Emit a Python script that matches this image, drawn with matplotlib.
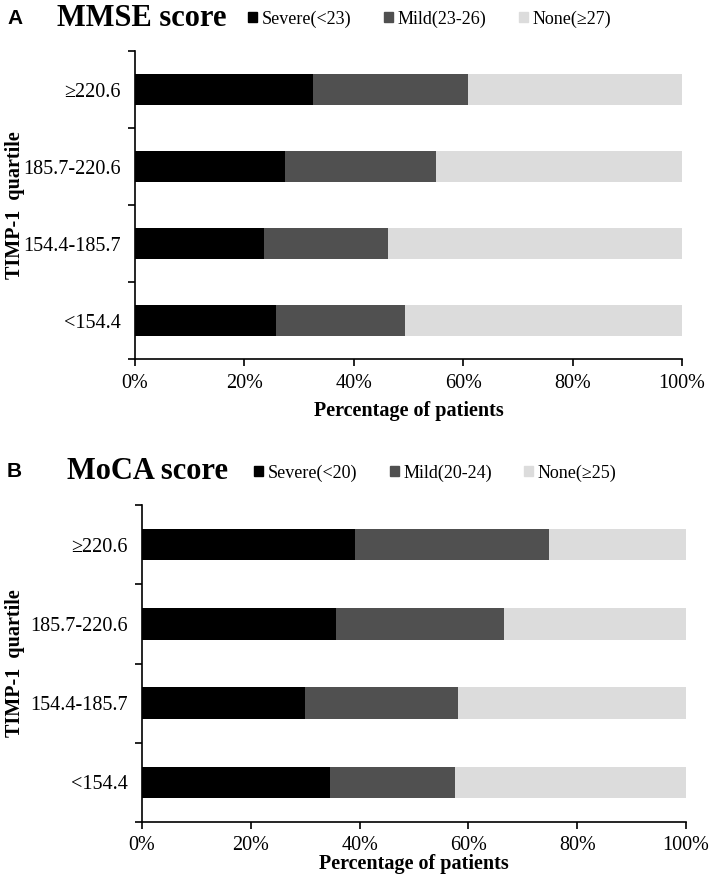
import matplotlib
matplotlib.use('Agg')
import matplotlib.pyplot as plt
import matplotlib.transforms as mtransforms
from matplotlib.patches import Patch

# quartiles, bottom to top as drawn
quartiles = ['<154.4', '154.4-185.7', '185.7-220.6', '\u2265220.6']

# MMSE score (% of patients)
mmse_severe = [25.7, 23.5, 27.5, 32.6]
mmse_mild = [23.7, 22.7, 27.6, 28.2]
mmse_none = [50.6, 53.8, 44.9, 39.2]
mmse_labels = ['Severe(<23)', 'Mild(23-26)', 'None(\u226527)']

# MoCA score (% of patients)
moca_severe = [34.5, 29.9, 35.6, 39.1]
moca_mild = [23.0, 28.2, 30.9, 35.8]
moca_none = [42.5, 41.9, 33.5, 25.1]
moca_labels = ['Severe(<20)', 'Mild(20-24)', 'None(\u226525)']

colors = ['#000000', '#505050', '#dcdcdc']
serif = ['Liberation Serif', 'DejaVu Serif']
W, H = 709, 886

fig = plt.figure(figsize=(W / 100, H / 100), dpi=100)


def panel(rect, severe, mild, none, labels, letter, title, ytop, title_x, leg_x, xlab_y, xpad):
    l, t, r, b = rect
    ax = fig.add_axes([l / W, 1 - b / H, (r - l) / W, (b - t) / H])
    y = range(len(quartiles))
    left = [0] * len(quartiles)
    for vals, c, lab in zip([severe, mild, none], colors, labels):
        ax.barh(y, vals, left=left, height=0.4, color=c, label=lab)
        left = [a + v for a, v in zip(left, vals)]
    ax.set_xlim(0, 100)
    ax.set_ylim(-0.5, len(quartiles) - 0.5)
    ax.set_xticks(range(0, 101, 20))
    ax.set_xticklabels([f'{v}%' for v in range(0, 101, 20)], family=serif, fontsize=14.5)
    ax.set_yticks(list(y))
    ax.set_yticklabels(quartiles, family=serif, fontsize=14.5)
    ax.set_yticks([i - 0.5 for i in range(len(quartiles) + 1)], minor=True)
    ax.tick_params(axis='y', which='major', length=0, pad=10)
    ax.tick_params(axis='y', which='minor', length=5, width=1.2)
    ax.tick_params(axis='x', length=5, width=1.2, pad=xpad)
    for s in ['top', 'right']:
        ax.spines[s].set_visible(False)
    for s in ['left', 'bottom']:
        ax.spines[s].set_linewidth(1.2)
    ax.set_xlabel('Percentage of patients', family=serif, fontweight='bold', fontsize=14.5, va='center')
    ax.set_ylabel('TIMP-1  quartile', family=serif, fontweight='bold', fontsize=14.5, va='center')
    ax.xaxis.set_label_coords(0.5, 1 - xlab_y / H,
                              transform=mtransforms.blended_transform_factory(ax.transAxes, fig.transFigure))
    ax.yaxis.set_label_coords(15 / W, 1 - (t + b) / 2 / H, transform=fig.transFigure)

    fig.text(7 / W, 1 - ytop / H, letter, family=['Liberation Sans', 'DejaVu Sans'],
             fontweight='bold', fontsize=15, va='center')
    fig.text(title_x / W, 1 - ytop / H, title, family=serif, fontweight='bold', fontsize=22, va='center')
    handles = [Patch(color=c) for c in colors]
    ax.legend(handles, labels, loc='center left', bbox_to_anchor=(leg_x / W, 1 - (ytop + 1) / H),
              bbox_transform=fig.transFigure, ncol=3, frameon=False, prop={'family': serif, 'size': 13},
              handlelength=0.5, handleheight=0.5, handletextpad=0.25, columnspacing=1.8)
    return ax


panel((135, 51, 682, 359), mmse_severe, mmse_mild, mmse_none, mmse_labels, 'A', 'MMSE score', 18, 57, 232, 411, 6)
panel((142, 505, 686, 822), moca_severe, moca_mild, moca_none, moca_labels, 'B', 'MoCA score', 472, 67, 238, 864, 5)

fig.savefig('out.png', dpi=100)
